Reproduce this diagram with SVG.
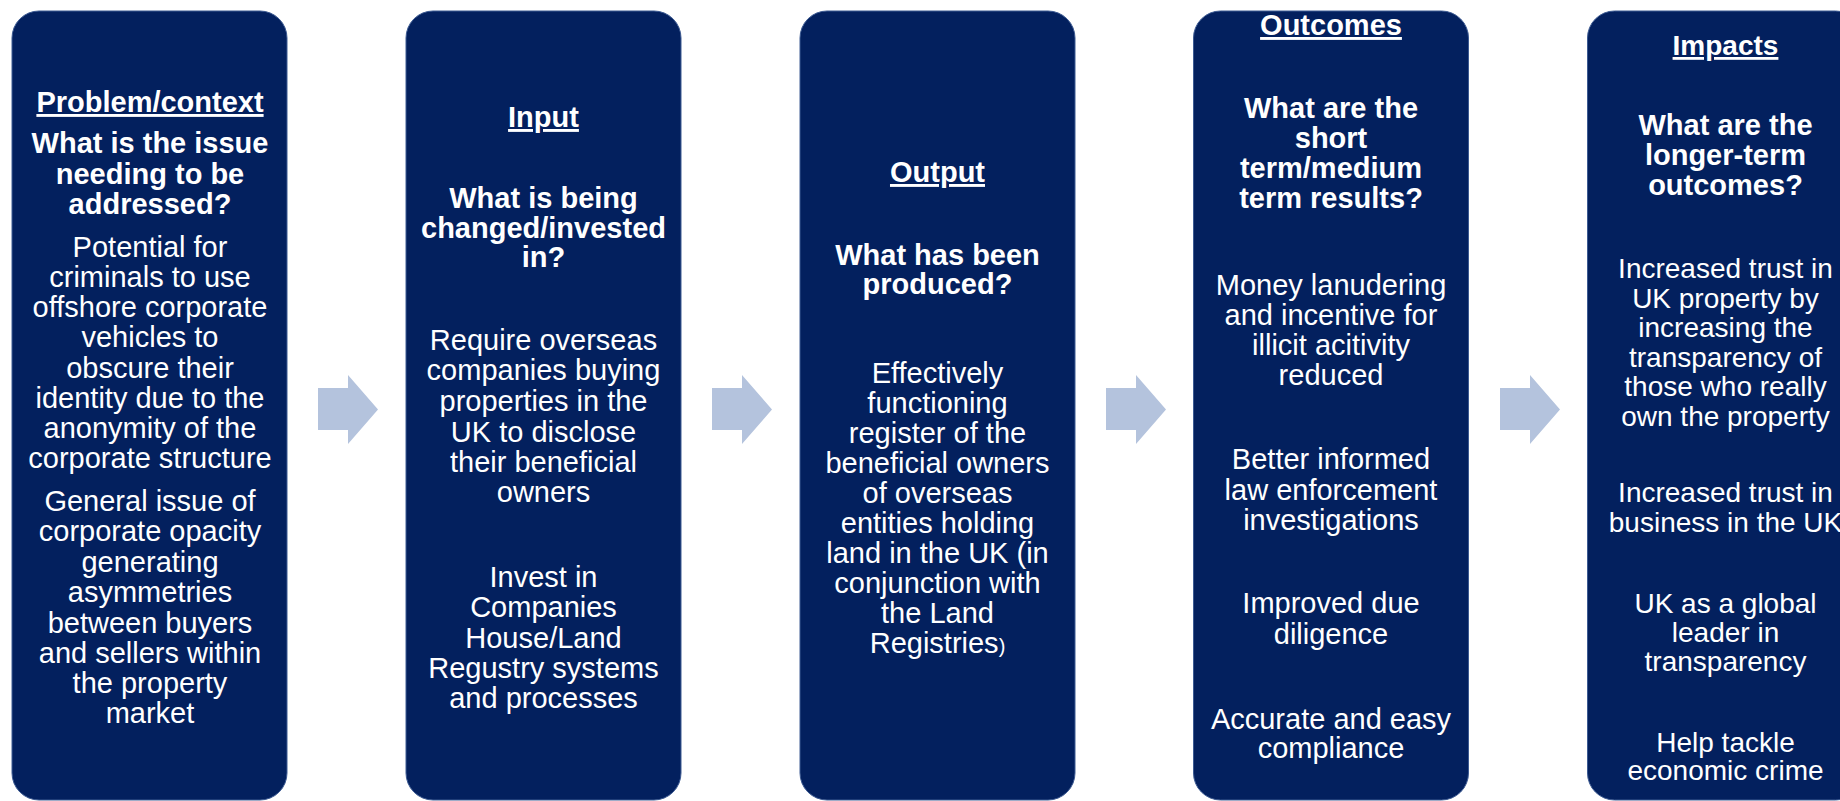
<svg xmlns="http://www.w3.org/2000/svg" width="1840" height="801" viewBox="0 0 1840 801">
<style>
.box{fill:#03205E;stroke:#3C5A92;stroke-width:1}
.arr{fill:#B4C3DD}
text{font-family:"Liberation Sans",Arial,sans-serif;fill:#FFFFFF;text-anchor:middle;font-size:29px}
.h{font-weight:bold;text-decoration:underline}
.q{font-weight:bold}
.s28{font-size:28px}
</style>
<rect width="1840" height="801" fill="#FFFFFF"/>
<g id="connectors">
<polygon class="arr" points="318,388 348,388 348,375 378,409.5 348,444 348,430 318,430"/>
<polygon class="arr" points="712,388 742,388 742,375 772,409.5 742,444 742,430 712,430"/>
<polygon class="arr" points="1106,388 1136,388 1136,375 1166,409.5 1136,444 1136,430 1106,430"/>
<polygon class="arr" points="1500,388 1530,388 1530,375 1560,409.5 1530,444 1530,430 1500,430"/>
</g>
<g id="problem">
<rect class="box" x="12" y="11" width="275" height="789" rx="27"/>
<text class="h" x="150" y="112">Problem/context</text>
<text class="q" x="150" y="153">What is the issue</text>
<text class="q" x="150" y="183.5">needing to be</text>
<text class="q" x="150" y="213.5">addressed?</text>
<text x="150" y="257">Potential for</text>
<text x="150" y="287">criminals to use</text>
<text x="150" y="317">offshore corporate</text>
<text x="150" y="347">vehicles to</text>
<text x="150" y="377.5">obscure their</text>
<text x="150" y="408">identity due to the</text>
<text x="150" y="438">anonymity of the</text>
<text x="150" y="468">corporate structure</text>
<text x="150" y="511">General issue of</text>
<text x="150" y="541">corporate opacity</text>
<text x="150" y="572">generating</text>
<text x="150" y="602">asymmetries</text>
<text x="150" y="633">between buyers</text>
<text x="150" y="663">and sellers within</text>
<text x="150" y="693">the property</text>
<text x="150" y="723">market</text>
</g>
<g id="input">
<rect class="box" x="406" y="11" width="275" height="789" rx="27"/>
<text class="h" x="543.5" y="127">Input</text>
<text class="q" x="543.5" y="208">What is being</text>
<text class="q" x="543.5" y="238">changed/invested</text>
<text class="q" x="543.5" y="267">in?</text>
<text x="543.5" y="350">Require overseas</text>
<text x="543.5" y="380">companies buying</text>
<text x="543.5" y="411">properties in the</text>
<text x="543.5" y="442">UK to disclose</text>
<text x="543.5" y="472">their beneficial</text>
<text x="543.5" y="502">owners</text>
<text x="543.5" y="587">Invest in</text>
<text x="543.5" y="617">Companies</text>
<text x="543.5" y="648">House/Land</text>
<text x="543.5" y="678">Regustry systems</text>
<text x="543.5" y="708">and processes</text>
</g>
<g id="output">
<rect class="box" x="800" y="11" width="275" height="789" rx="27"/>
<text class="h" x="937.5" y="182">Output</text>
<text class="q" x="937.5" y="265">What has been</text>
<text class="q" x="937.5" y="294">produced?</text>
<text x="937.5" y="382.5">Effectively</text>
<text x="937.5" y="412.5">functioning</text>
<text x="937.5" y="442.5">register of the</text>
<text x="937.5" y="472.5">beneficial owners</text>
<text x="937.5" y="502.5">of overseas</text>
<text x="937.5" y="532.5">entities holding</text>
<text x="937.5" y="562.5">land in the UK (in</text>
<text x="937.5" y="592.5">conjunction with</text>
<text x="937.5" y="622.5">the Land</text>
<text x="937.5" y="652.5">Registries<tspan font-size="20">)</tspan></text>
</g>
<g id="outcomes">
<rect class="box" x="1193.5" y="11" width="275" height="789" rx="27"/>
<text class="h" x="1331" y="35">Outcomes</text>
<text class="q" x="1331" y="118">What are the</text>
<text class="q" x="1331" y="148">short</text>
<text class="q" x="1331" y="178">term/medium</text>
<text class="q" x="1331" y="208">term results?</text>
<text x="1331" y="295">Money lanudering</text>
<text x="1331" y="324.5">and incentive for</text>
<text x="1331" y="354.5">illicit acitivity</text>
<text x="1331" y="385">reduced</text>
<text x="1331" y="469">Better informed</text>
<text x="1331" y="500">law enforcement</text>
<text x="1331" y="530">investigations</text>
<text x="1331" y="613">Improved due</text>
<text x="1331" y="644">diligence</text>
<text x="1331" y="729">Accurate and easy</text>
<text x="1331" y="758">compliance</text>
</g>
<g id="impacts">
<rect class="box" x="1587.5" y="11" width="275" height="789" rx="27"/>
<text class="h s28" x="1725.5" y="55">Impacts</text>
<text class="q" x="1725.5" y="135">What are the</text>
<text class="q" x="1725.5" y="165">longer-term</text>
<text class="q" x="1725.5" y="195">outcomes?</text>
<text class="s28" x="1725.5" y="278">Increased trust in</text>
<text class="s28" x="1725.5" y="307.5">UK property by</text>
<text class="s28" x="1725.5" y="337">increasing the</text>
<text class="s28" x="1725.5" y="366.5">transparency of</text>
<text class="s28" x="1725.5" y="396">those who really</text>
<text class="s28" x="1725.5" y="425.5">own the property</text>
<text class="s28" x="1725.5" y="502">Increased trust in</text>
<text class="s28" x="1725.5" y="532">business in the UK</text>
<text class="s28" x="1725.5" y="613">UK as a global</text>
<text class="s28" x="1725.5" y="642">leader in</text>
<text class="s28" x="1725.5" y="671">transparency</text>
<text class="s28" x="1725.5" y="752">Help tackle</text>
<text class="s28" x="1725.5" y="780">economic crime</text>
</g>
</svg>
